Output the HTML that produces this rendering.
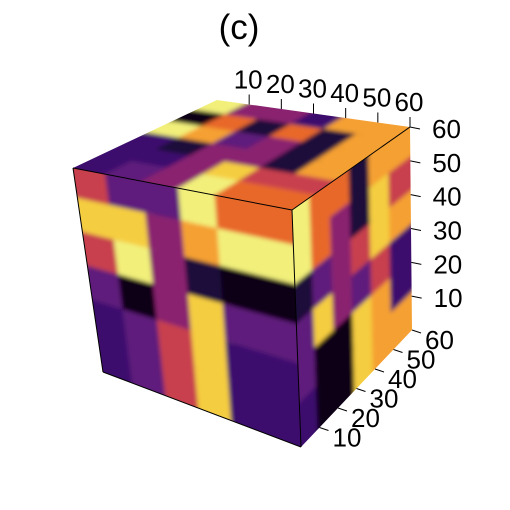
<!DOCTYPE html>
<html><head><meta charset="utf-8">
<style>
html,body{margin:0;padding:0;background:#fff;}
svg{display:block;font-family:"Liberation Sans",sans-serif;}
</style></head>
<body>
<svg id="chart" width="510" height="510" viewBox="0 0 510 510">
<defs>
<filter id="blur" x="-10%" y="-10%" width="120%" height="120%"><feGaussianBlur stdDeviation="2.2"/></filter>
<clipPath id="clipFront"><polygon points="73,168 292,210 301,447 103,372"/></clipPath>
<clipPath id="clipTop"><polygon points="73,168 292,210 410,127 217,100"/></clipPath>
<clipPath id="clipRight"><polygon points="292,210 410,127 412,330 301,447"/></clipPath>
</defs>
<text x="239" y="39" font-size="35" text-anchor="middle">(c)</text>
<g id="faces"></g>
<g id="axes"></g>
</svg>
<script>
const palette = ['#0a0418','#1a0c3a','#3e0f6e','#5e1a7c','#8a2270','#c8404e','#e8682a','#f5a030','#f5cd40','#f2f07a'];
const frontValues = [
 [5,3,3,9,6,6],
 [8,8,4,7,9,9],
 [5,9,4,1,0,0],
 [3,0,4,8,3,3],
 [2,3,5,8,2,2],
 [2,3,5,8,2,2]
];
const topValues = [
 [9,4,4,2,7,7],
 [0,6,1,6,1,7],
 [9,7,3,4,1,7],
 [2,1,4,4,1,7],
 [2,2,4,8,5,5],
 [2,3,4,9,6,6]
];
const rightValues = [
 [9,6,6,1,7,7],
 [9,6,4,1,8,5],
 [1,3,4,5,8,7],
 [3,8,4,3,5,2],
 [3,0,0,8,7,2],
 [2,0,0,8,7,7]
];
const ticksX = ['10','20','30','40','50','60'];
const ticksZ = ['10','20','30','40','50','60'];
const ticksY = ['10','20','30','40','50','60'];

const NS='http://www.w3.org/2000/svg';
function bil(c,u,v){
  const x=(1-u)*(1-v)*c[0][0]+u*(1-v)*c[1][0]+u*v*c[2][0]+(1-u)*v*c[3][0];
  const y=(1-u)*(1-v)*c[0][1]+u*(1-v)*c[1][1]+u*v*c[2][1]+(1-u)*v*c[3][1];
  return [x,y];
}
function drawFace(name,corners,vals,clip){
  const g=document.createElementNS(NS,'g');
  
  
  g.setAttribute('clip-path','url(#'+clip+')');
  const inner=document.createElementNS(NS,'g');
  inner.setAttribute('filter','url(#blur)');
  const n=vals.length, m=vals[0].length;
  for(let r=0;r<n;r++)for(let c=0;c<m;c++){
    const e=0.02;
    const u0=c===0?-0.1:c/m-e, u1=c===m-1?1.1:(c+1)/m+e;
    const v0=r===0?-0.1:r/n-e, v1=r===n-1?1.1:(r+1)/n+e;
    const pts=[bil(corners,u0,v0),bil(corners,u1,v0),bil(corners,u1,v1),bil(corners,u0,v1)];
    const p=document.createElementNS(NS,'polygon');
    
    
    p.setAttribute('points',pts.map(q=>q[0].toFixed(1)+','+q[1].toFixed(1)).join(' '));
    p.setAttribute('fill',palette[vals[r][c]]);
    inner.appendChild(p);
  }
  g.appendChild(inner);
  document.getElementById('faces').appendChild(g);
}
drawFace('top-face',[[217,100],[410,127],[292,210],[73,168]],topValues,'clipTop');
drawFace('front-face',[[73,168],[292,210],[301,447],[103,372]],frontValues,'clipFront');
drawFace('right-face',[[292,210],[410,127],[412,330],[301,447]],rightValues,'clipRight');

const ax=document.getElementById('axes');
function line(x1,y1,x2,y2,name,w){
  const l=document.createElementNS(NS,'line');
  
  
  l.setAttribute('x1',x1);l.setAttribute('y1',y1);l.setAttribute('x2',x2);l.setAttribute('y2',y2);
  l.setAttribute('stroke','#000');l.setAttribute('stroke-width',w||1);
  ax.appendChild(l);
}
function text(x,y,s,name,anchor){
  const t=document.createElementNS(NS,'text');
  
  
  t.setAttribute('x',x);t.setAttribute('y',y);t.setAttribute('font-size','26');
  t.setAttribute('text-anchor',anchor||'middle');
  t.textContent=s;ax.appendChild(t);
}
line(73,168,292,210,'cube-edge');line(292,210,301,447,'cube-edge');line(292,210,410,127,'cube-edge');
line(73,168,103,372,'cube-edge');line(103,372,301,447,'cube-edge');
ticksX.forEach((s,i)=>{
  const f=(i+1)/ticksX.length;
  const x=217+f*(410-217), y=100+f*(127-100);
  line(x,y,x,y-10,'x-axis-tick');
  text(x-1,y-16,s,'x-axis-tick-label');
});
ticksZ.forEach((s,i)=>{
  const f=(i+1)/ticksZ.length;
  const x=412-f*2, y=330-f*(330-127);
  line(x,y,x+10,y+2,'z-axis-tick');
  text(x+22,y+11,s,'z-axis-tick-label','start');
});
ticksY.forEach((s,i)=>{
  const f=(i+1)/ticksY.length;
  const x=301+f*(412-301), y=447+f*(330-447);
  line(x,y,x+9,y+3,'y-axis-tick');
  text(x+13,y+19,s,'y-axis-tick-label','start');
});
</script>
</body></html>
